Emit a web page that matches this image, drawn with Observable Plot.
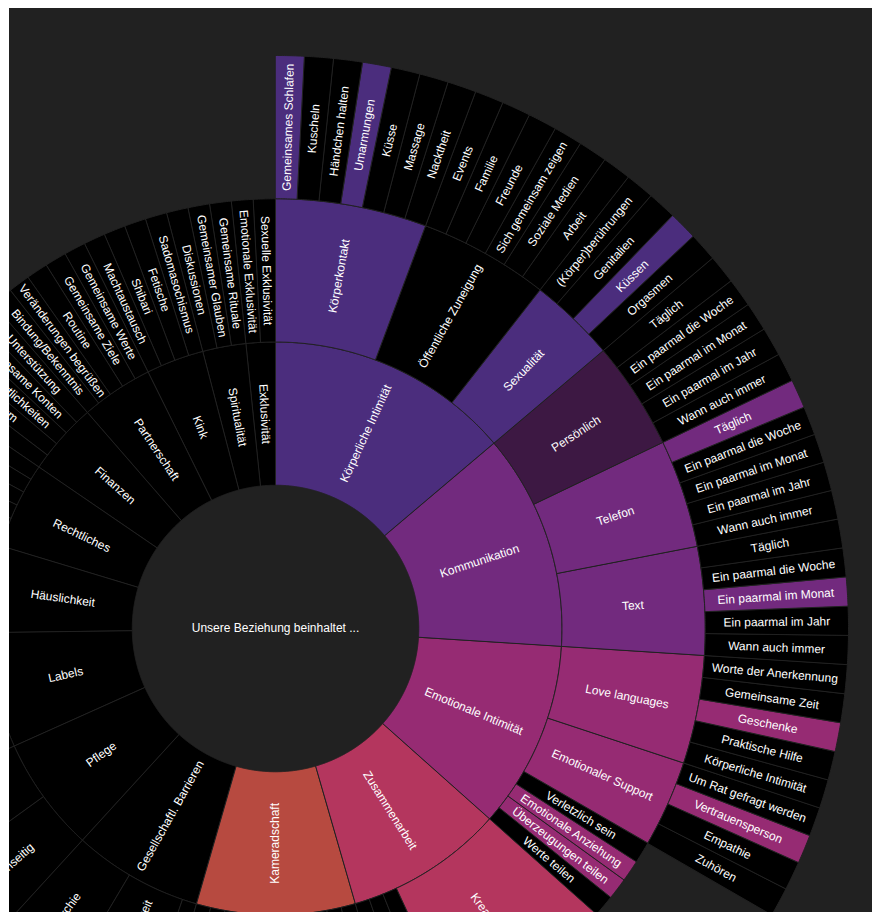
<!DOCTYPE html>
<html>
<head>
<meta charset="utf-8">
<script src="https://cdn.jsdelivr.net/npm/d3@7"></script>
<script src="https://cdn.jsdelivr.net/npm/@observablehq/plot@0.6"></script>
<style>
  html, body { margin: 0; padding: 0; background: #ffffff; overflow: hidden; }
  #chart { position: absolute; left: 9px; top: 8px; width: 863px; height: 904px; background: #212121; overflow: hidden; }
  #chart svg { display: block; }
</style>
</head>
<body>
<div id="chart"></div>
<script>
// ---------------- data ----------------
const centerLabel = "Unsere Beziehung beinhaltet ...";

const categories = [
  "Körperliche Intimität", "Kommunikation", "Emotionale Intimität", "Zusammenarbeit",
  "Kameradschaft", "Gesellschaftl. Barrieren", "Pflege", "Labels", "Häuslichkeit",
  "Rechtliches", "Finanzen", "Partnerschaft", "Kink", "Spiritualität", "Exklusivität"
];

const kKoerperlicheIntimitaet = [
  "Körperkontakt > Gemeinsames Schlafen", "Körperkontakt > Kuscheln", "Körperkontakt > Händchen halten",
  "Körperkontakt > Umarmungen", "Körperkontakt > Küsse", "Körperkontakt > Massage", "Körperkontakt > Nacktheit",
  "Öffentliche Zuneigung > Events", "Öffentliche Zuneigung > Familie", "Öffentliche Zuneigung > Freunde",
  "Öffentliche Zuneigung > Sich gemeinsam zeigen", "Öffentliche Zuneigung > Soziale Medien", "Öffentliche Zuneigung > Arbeit",
  "Sexualität > (Körper)berührungen", "Sexualität > Genitalien", "Sexualität > Küssen", "Sexualität > Orgasmen"
];

const kKommunikation = [
  "Persönlich > Täglich", "Persönlich > Ein paarmal die Woche", "Persönlich > Ein paarmal im Monat",
  "Persönlich > Ein paarmal im Jahr", "Persönlich > Wann auch immer",
  "Telefon > Täglich", "Telefon > Ein paarmal die Woche", "Telefon > Ein paarmal im Monat",
  "Telefon > Ein paarmal im Jahr", "Telefon > Wann auch immer",
  "Text > Täglich", "Text > Ein paarmal die Woche", "Text > Ein paarmal im Monat",
  "Text > Ein paarmal im Jahr", "Text > Wann auch immer"
];

const kEmotionaleIntimitaet = [
  "Love languages > Worte der Anerkennung", "Love languages > Gemeinsame Zeit", "Love languages > Geschenke",
  "Love languages > Praktische Hilfe", "Love languages > Körperliche Intimität",
  "Emotionaler Support > Um Rat gefragt werden", "Emotionaler Support > Vertrauensperson",
  "Emotionaler Support > Empathie", "Emotionaler Support > Zuhören",
  "Verletzlich sein", "Emotionale Anziehung", "Überzeugungen teilen", "Werte teilen"
];

const kZusammenarbeit = [
  "Kreativität > Musik", "Kreativität > Kunst", "Kreativität > Schreiben", "Kreativität > Kochen",
  "Kreativität > Handwerk", "Kreativität > Tanz", "Kreativität > Fotografie", "Kreativität > Spiele",
  "Haushalt", "Projekte", "Planung"
];

const kKameradschaft = [
  "Hobbys", "Freizeit", "Reisen", "Sport", "Humor", "Abenteuer",
  "Ausgehen", "Gespräche", "Loyalität", "Vertrauen", "Spaß"
];

const kGesellschaftlBarrieren = [
  "Vorurteile",
  "Fehlende Sichtbarkeit > Familie", "Fehlende Sichtbarkeit > Freundeskreis",
  "Fehlende Sichtbarkeit > Beruf", "Fehlende Sichtbarkeit > Öffentlichkeit",
  "Hierarchie > Primär", "Hierarchie > Sekundär", "Hierarchie > Veto", "Hierarchie > Keine"
];

const kPflege = [
  "Gegenseitig > Krankheit", "Gegenseitig > Alter", "Gegenseitig > Alltag", "Gegenseitig > Notfälle",
  "Einseitig > Krankheit", "Einseitig > Alter", "Einseitig > Alltag", "Einseitig > Notfälle"
];

const kLabels = ["Partner:in", "Freund:in", "Geliebte:r", "Ehepartner:in", "Metamour", "Queerplatonisch", "Gefährt:in", "Keine Labels"];
const kHaeuslichkeit = ["Zusammenleben", "Getrennt wohnen", "Haushalt", "Haustiere", "Kinder", "Urlaub"];
const kRechtliches = ["Ehe", "Verpartnerung", "Namensänderung", "Patientenverfügung", "Sorgerecht", "Testament"];
const kFinanzen = ["Budget", "Eigentum", "Verantwortlichkeiten", "Gemeinsame Konten", "Unterstützung"];
const kPartnerschaft = ["Bindung/Bekenntnis", "Veränderungen begrüßen", "Routine", "Gemeinsame Ziele", "Gemeinsame Werte"];
const kKink = ["Machtaustausch", "Shibari", "Fetische", "Sadomasochismus"];
const kSpiritualitaet = ["Diskussionen", "Gemeinsamer Glauben", "Gemeinsame Rituale"];
const kExklusivitaet = ["Emotionale Exklusivität", "Sexuelle Exklusivität"];

const categoryItems = [
  kKoerperlicheIntimitaet, kKommunikation, kEmotionaleIntimitaet, kZusammenarbeit, kKameradschaft,
  kGesellschaftlBarrieren, kPflege, kLabels, kHaeuslichkeit, kRechtliches, kFinanzen,
  kPartnerschaft, kKink, kSpiritualitaet, kExklusivitaet
];

// chosen ("ja") nodes, by path
const selected = [
  "Körperliche Intimität",
  "Körperliche Intimität > Körperkontakt",
  "Körperliche Intimität > Körperkontakt > Gemeinsames Schlafen",
  "Körperliche Intimität > Körperkontakt > Umarmungen",
  "Körperliche Intimität > Sexualität",
  "Körperliche Intimität > Sexualität > Küssen",
  "Kommunikation",
  "Kommunikation > Telefon",
  "Kommunikation > Telefon > Täglich",
  "Kommunikation > Text",
  "Kommunikation > Text > Ein paarmal im Monat",
  "Emotionale Intimität",
  "Emotionale Intimität > Love languages",
  "Emotionale Intimität > Love languages > Geschenke",
  "Emotionale Intimität > Emotionaler Support",
  "Emotionale Intimität > Emotionaler Support > Vertrauensperson",
  "Emotionale Intimität > Emotionale Anziehung",
  "Emotionale Intimität > Überzeugungen teilen",
  "Zusammenarbeit",
  "Zusammenarbeit > Kreativität",
  "Kameradschaft"
];
// partly chosen nodes
const partial = ["Kommunikation > Persönlich"];

// ---------------- styles ----------------
const colorCategories = ["Körperliche Intimität", "Kommunikation", "Emotionale Intimität", "Zusammenarbeit", "Kameradschaft"];
const colorValues = ["#4b2d7d", "#722a7e", "#962b73", "#b4365e", "#b74a40"];
const partialKey = "teilweise";
const partialColor = "#3d1843";
const noKey = "nein";
const noColor = "#000000";
const bg = "#212121";

// ---------------- hierarchy ----------------
function buildTree() {
  const root = {name: centerLabel, path: "", children: []};
  categories.forEach((cat, i) => {
    const catNode = {name: cat, path: cat, children: []};
    root.children.push(catNode);
    for (const item of categoryItems[i]) {
      let node = catNode;
      for (const part of item.split(" > ")) {
        let child = node.children.find(c => c.name === part);
        if (!child) {
          child = {name: part, path: node.path + " > " + part, children: []};
          node.children.push(child);
        }
        node = child;
      }
    }
  });
  return root;
}

const hierarchy = d3.hierarchy(buildTree()).sum(d => d.children.length ? 0 : 1);
const root = d3.partition().size([2 * Math.PI, hierarchy.height + 1])(hierarchy);

const W = 863, H = 904;
const cx = 266, cy = 620;
const R = 143.25;

function keyOf(d) {
  const p = d.data.path;
  if (selected.includes(p)) return p.split(" > ")[0];
  if (partial.includes(p)) return partialKey;
  return noKey;
}

const polys = [];
const labels = [];
root.descendants().forEach((d, id) => {
  if (d.depth === 0) {
    labels.push({x: 0, y: 0, rotate: 0, text: d.data.name});
    return;
  }
  const r0 = d.y0 * R, r1 = d.y1 * R;
  const n = Math.max(2, Math.ceil((d.x1 - d.x0) / 0.004));
  const key = keyOf(d);
  for (let i = 0; i <= n; i++) {
    const a = d.x0 + (d.x1 - d.x0) * i / n;
    polys.push({id, key, x: r1 * Math.sin(a), y: r1 * Math.cos(a)});
  }
  for (let i = n; i >= 0; i--) {
    const a = d.x0 + (d.x1 - d.x0) * i / n;
    polys.push({id, key, x: r0 * Math.sin(a), y: r0 * Math.cos(a)});
  }
  const a = (d.x0 + d.x1) / 2;
  const r = (d.y0 + d.y1) / 2 * R;
  const deg = a * 180 / Math.PI;
  labels.push({x: r * Math.sin(a), y: r * Math.cos(a), rotate: deg < 180 ? deg - 90 : deg + 90, text: d.data.name});
});

const chart = Plot.plot({
  width: W,
  height: H,
  margin: 0,
  x: {domain: [-cx, W - cx], axis: null},
  y: {domain: [-(H - cy), cy], axis: null},
  color: {type: "ordinal", domain: [...colorCategories, partialKey, noKey], range: [...colorValues, partialColor, noColor]},
  style: {background: bg, color: "white", fontFamily: "'Liberation Sans', Arial, sans-serif"},
  marks: [
    Plot.line(polys, {x: "x", y: "y", z: "id", fill: "key", stroke: bg, strokeWidth: 1, curve: "linear-closed"}),
    Plot.text(labels, {
      x: "x", y: "y", text: "text", rotate: "rotate",
      fill: "white", fontSize: 12, textAnchor: "middle", lineAnchor: "middle"
    })
  ]
});
document.getElementById("chart").appendChild(chart);
</script>
</body>
</html>
